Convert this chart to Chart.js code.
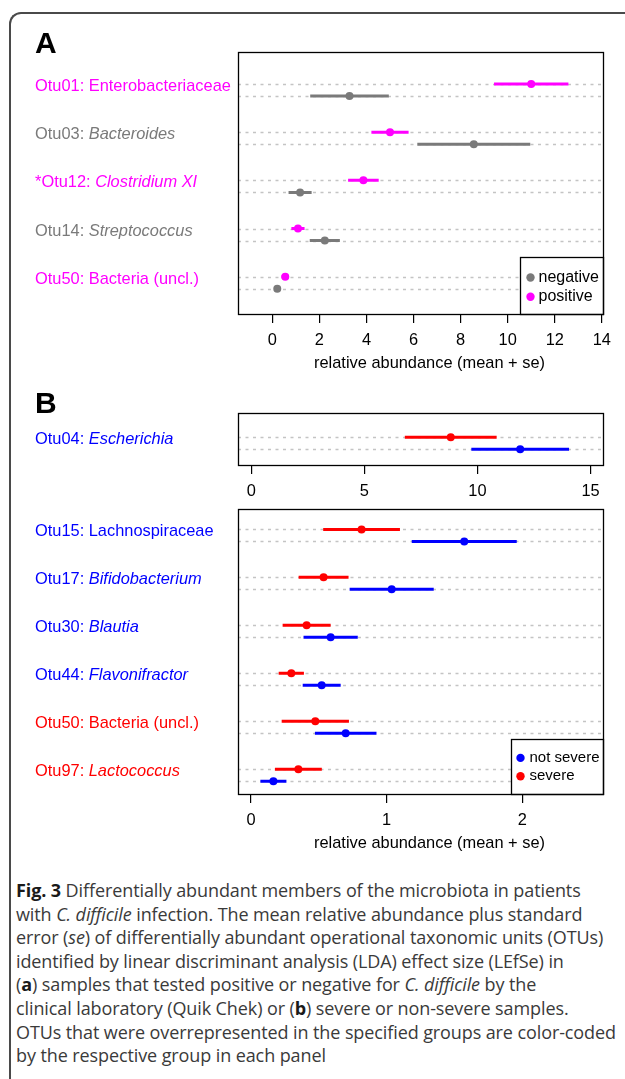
<!DOCTYPE html>
<html>
<head>
<meta charset="utf-8">
<script src="https://cdn.jsdelivr.net/npm/chart.js@4.4.1/dist/chart.umd.min.js"></script>
<style>
  html, body { margin: 0; padding: 0; background: #fff; }
  #page { position: relative; width: 625px; height: 1079px; overflow: hidden; }
  #frame {
    position: absolute; left: 9px; top: 12px; width: 700px; height: 1200px;
    border-left: 2px solid #4a4a4a; border-top: 2px solid #4a4a4a;
    border-top-left-radius: 12px;
  }
  canvas { position: absolute; left: 0; }
  #caption {
    position: absolute; left: 16px; top: 879px; width: 605px;
    font-family: "Open Sans", sans-serif; font-size: 18px; line-height: 23.6px;
    color: #3a3a3a; letter-spacing: -0.1px; white-space: nowrap;
  }
  #caption b { color: #1a1a1a; }
</style>
</head>
<body>
<div id="page">
  <div id="frame"></div>
  <canvas id="panelA" width="625" height="380" style="top:0px"></canvas>
  <canvas id="panelB1" width="625" height="120" style="top:380px"></canvas>
  <canvas id="panelB2" width="625" height="365" style="top:500px"></canvas>
  <div id="caption"><b>Fig. 3</b> Differentially abundant members of the microbiota in patients<br>with <i>C. difficile</i> infection. The mean relative abundance plus standard<br>error (<i>se</i>) of differentially abundant operational taxonomic units (OTUs)<br>identified by linear discriminant analysis (LDA) effect size (LEfSe) in<br>(<b>a</b>) samples that tested positive or negative for <i>C. difficile</i> by the<br>clinical laboratory (Quik Chek) or (<b>b</b>) severe or non-severe samples.<br>OTUs that were overrepresented in the specified groups are color-coded<br>by the respective group in each panel</div>
</div>
<script>
// ---- panel A: C. difficile positive vs negative ----
const otuA = ["Otu01", "Otu03", "*Otu12", "Otu14", "Otu50"];
const taxaA = ["Enterobacteriaceae", "Bacteroides", "Clostridium XI", "Streptococcus", "Bacteria (uncl.)"];
const italicA = [false, true, true, true, false];
const enrichedA = ["positive", "negative", "positive", "negative", "positive"];
const positiveMean = [11.0, 5.0, 3.87, 1.09, 0.55];
const positiveSe = [1.58, 0.79, 0.65, 0.28, 0.16];
const negativeMean = [3.28, 8.56, 1.18, 2.23, 0.21];
const negativeSe = [1.67, 2.40, 0.49, 0.64, 0.05];
const ticksA = [0, 2, 4, 6, 8, 10, 12, 14];

// ---- panel B: severe vs not severe ----
const otuB1 = ["Otu04"];
const taxaB1 = ["Escherichia"];
const italicB1 = [true];
const enrichedB1 = ["not severe"];
const severeMeanB1 = [8.82];
const severeSeB1 = [2.03];
const notSevereMeanB1 = [11.89];
const notSevereSeB1 = [2.16];
const ticksB1 = [0, 5, 10, 15];

const otuB2 = ["Otu15", "Otu17", "Otu30", "Otu44", "Otu50", "Otu97"];
const taxaB2 = ["Lachnospiraceae", "Bifidobacterium", "Blautia", "Flavonifractor", "Bacteria (uncl.)", "Lactococcus"];
const italicB2 = [false, true, true, true, false, true];
const enrichedB2 = ["not severe", "not severe", "not severe", "not severe", "severe", "severe"];
const severeMeanB2 = [0.815, 0.535, 0.41, 0.297, 0.474, 0.349];
const severeSeB2 = [0.283, 0.184, 0.177, 0.093, 0.248, 0.173];
const notSevereMeanB2 = [1.572, 1.037, 0.587, 0.521, 0.698, 0.165];
const notSevereSeB2 = [0.387, 0.31, 0.2, 0.14, 0.227, 0.096];
const ticksB2 = [0, 1, 2];

const COLORS = { positive: "#ff00ff", negative: "#7a7a7a", "not severe": "#0000ff", severe: "#ff0000" };
const ROW_OFFSET = 0.125; // half the gap between the two rows of a pair (in group units)
const FONT = '"Liberation Sans", Arial, Helvetica, sans-serif';

function barPoints(means, ses, offset) {
  const pts = [];
  means.forEach((m, i) => {
    pts.push({ x: m - ses[i], y: i + offset }, { x: m + ses[i], y: i + offset }, { x: null, y: null });
  });
  return pts;
}

function meanPoints(means, offset) {
  return means.map((m, i) => ({ x: m, y: i + offset }));
}

const panelPlugin = {
  id: "otuPanel",
  beforeDatasetsDraw(chart, args, opts) {
    const { ctx, chartArea: a, scales: { y } } = chart;
    ctx.save();
    ctx.strokeStyle = "#c4c4c4";
    ctx.lineWidth = 1.4;
    ctx.setLineDash([3, 4.5]);
    opts.otus.forEach((_, i) => {
      [-ROW_OFFSET, ROW_OFFSET].forEach((o) => {
        const py = Math.round(y.getPixelForValue(i + o)) + 0.5;
        ctx.beginPath();
        ctx.moveTo(a.left, py);
        ctx.lineTo(a.right, py);
        ctx.stroke();
      });
    });
    ctx.restore();
  },
  afterDraw(chart, args, opts) {
    const { ctx, chartArea: a, scales: { y } } = chart;
    ctx.save();

    // panel letter
    if (opts.letter) {
      ctx.fillStyle = "#000";
      ctx.font = "bold 30px " + FONT;
      ctx.textBaseline = "alphabetic";
      ctx.fillText(opts.letter, 35, opts.letterY);
    }

    // OTU labels on the left
    ctx.textBaseline = "middle";
    opts.otus.forEach((otu, i) => {
      const py = y.getPixelForValue(i) - 3.5;
      ctx.fillStyle = COLORS[opts.enriched[i]];
      ctx.font = "16.4px " + FONT;
      const prefix = otu + ": ";
      ctx.fillText(prefix, 35, py);
      const w = ctx.measureText(prefix).width;
      ctx.font = (opts.italic[i] ? "italic " : "") + "16.4px " + FONT;
      ctx.fillText(opts.taxa[i], 35 + w, py);
    });

    // legend
    if (opts.legend) {
      const lg = opts.legend;
      const bx = Math.round(a.right - lg.width) + 0.5;
      const by = Math.round(a.bottom - lg.height) + 0.5;
      ctx.fillStyle = "#fff";
      ctx.fillRect(bx, by, lg.width, lg.height);
      ctx.strokeStyle = "#000";
      ctx.lineWidth = 1.3;
      ctx.strokeRect(bx, by, lg.width, lg.height);
      lg.items.forEach((it, k) => {
        const cy = by + lg.firstRow + k * lg.rowGap;
        ctx.fillStyle = COLORS[it];
        ctx.beginPath();
        ctx.arc(bx + lg.dotX, cy, 4.2, 0, Math.PI * 2);
        ctx.fill();
        ctx.fillStyle = "#000";
        ctx.font = lg.fontSize + "px " + FONT;
        ctx.fillText(it, bx + lg.textX, cy);
      });
    }

    // plot box
    ctx.strokeStyle = "#000";
    ctx.lineWidth = 1.3;
    ctx.strokeRect(Math.round(a.left) + 0.5, Math.round(a.top) + 0.5,
      Math.round(a.right - a.left), Math.round(a.bottom - a.top));

    // axis title
    if (opts.axisTitle) {
      ctx.fillStyle = "#000";
      ctx.font = "16.4px " + FONT;
      ctx.textAlign = "center";
      ctx.textBaseline = "middle";
      ctx.fillText(opts.axisTitle, (a.left + a.right) / 2 + 9, a.bottom + 49);
    }
    ctx.restore();
  }
};

function makePanel(canvasId, cfg) {
  const datasets = [
    { type: "scatter", data: meanPoints(cfg.upperMean, -ROW_OFFSET), backgroundColor: COLORS[cfg.upper], pointRadius: 4, borderWidth: 0 },
    { type: "scatter", data: meanPoints(cfg.lowerMean, ROW_OFFSET), backgroundColor: COLORS[cfg.lower], pointRadius: 4, borderWidth: 0 },
    { type: "line", data: barPoints(cfg.upperMean, cfg.upperSe, -ROW_OFFSET), borderColor: COLORS[cfg.upper], borderWidth: 3, pointRadius: 0, borderCapStyle: "butt", spanGaps: false },
    { type: "line", data: barPoints(cfg.lowerMean, cfg.lowerSe, ROW_OFFSET), borderColor: COLORS[cfg.lower], borderWidth: 3, pointRadius: 0, borderCapStyle: "butt", spanGaps: false }
  ];
  return new Chart(document.getElementById(canvasId), {
    data: { datasets },
    plugins: [panelPlugin],
    options: {
      responsive: false,
      animation: false,
      events: [],
      layout: { padding: { left: 238, right: 22, top: cfg.top, bottom: 0 } },
      plugins: {
        legend: { display: false },
        tooltip: { enabled: false },
        otuPanel: cfg.decor
      },
      scales: {
        x: {
          type: "linear",
          min: cfg.xMin,
          max: cfg.xMax,
          afterBuildTicks: (scale) => { scale.ticks = cfg.ticks.map((v) => ({ value: v })); },
          afterFit: (scale) => { scale.height = cfg.axisHeight; },
          border: { display: false },
          grid: { drawOnChartArea: false, drawTicks: true, tickLength: 9, color: "#000", lineWidth: 1.2 },
          ticks: { autoSkip: false, maxRotation: 0, padding: 7.5, color: "#000", font: { family: FONT, size: 16.4 } }
        },
        y: { type: "linear", min: cfg.yMin, max: cfg.yMax, reverse: true, display: false }
      }
    }
  });
}

makePanel("panelA", {
  top: 52, axisHeight: 66, xMin: -1.458, xMax: 14.05, ticks: ticksA, yMin: -0.79, yMax: 4.65,
  upper: "positive", upperMean: positiveMean, upperSe: positiveSe,
  lower: "negative", lowerMean: negativeMean, lowerSe: negativeSe,
  decor: {
    letter: "A", letterY: 53, otus: otuA, taxa: taxaA, italic: italicA, enriched: enrichedA,
    axisTitle: "relative abundance (mean + se)",
    legend: { width: 83, height: 57, firstRow: 20, rowGap: 19.3, dotX: 10, textX: 18, fontSize: 16, items: ["negative", "positive"] }
  }
});

makePanel("panelB1", {
  top: 33, axisHeight: 35, xMin: -0.584, xMax: 15.55, ticks: ticksB1, yMin: -0.625, yMax: 0.45,
  upper: "severe", upperMean: severeMeanB1, upperSe: severeSeB1,
  lower: "not severe", lowerMean: notSevereMeanB1, lowerSe: notSevereSeB1,
  decor: { letter: "B", letterY: 33, otus: otuB1, taxa: taxaB1, italic: italicB1, enriched: enrichedB1 }
});

makePanel("panelB2", {
  top: 9, axisHeight: 71, xMin: -0.096, xMax: 2.595, ticks: ticksB2, yMin: -0.55, yMax: 5.39,
  upper: "severe", upperMean: severeMeanB2, upperSe: severeSeB2,
  lower: "not severe", lowerMean: notSevereMeanB2, lowerSe: notSevereSeB2,
  decor: {
    otus: otuB2, taxa: taxaB2, italic: italicB2, enriched: enrichedB2,
    axisTitle: "relative abundance (mean + se)",
    legend: { width: 92, height: 55, firstRow: 18.4, rowGap: 18.3, dotX: 9, textX: 18, fontSize: 15, items: ["not severe", "severe"] }
  }
});
</script>
</body>
</html>
